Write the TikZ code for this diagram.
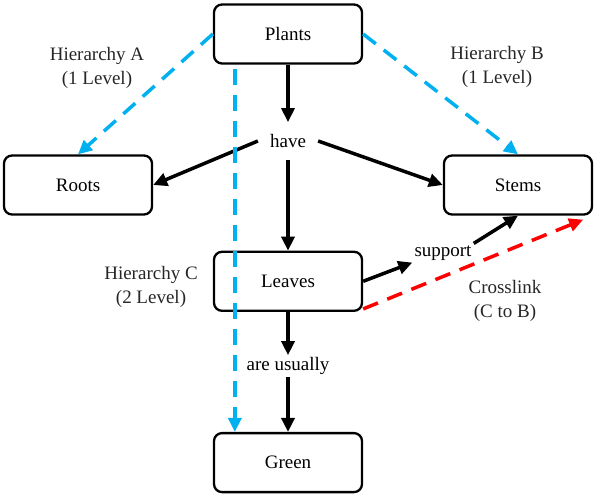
\documentclass[tikz,border=0pt]{standalone}
\usepackage{fontspec}
\setmainfont{Liberation Serif}
\usetikzlibrary{positioning,arrows.meta,calc}
\definecolor{hierblue}{RGB}{0,176,240}
\definecolor{crossred}{RGB}{255,0,0}
\tikzset{
  concept/.style={draw,line width=2.3pt,rounded corners=8pt,minimum width=148pt,
            minimum height=59pt,align=center,fill=white},
  linkword/.style={inner sep=2pt},
  rel/.style={-{Triangle[length=14pt,width=13pt]},line width=3.5pt,black},
  hier/.style={-{Triangle[length=14pt,width=13pt]},line width=3.5pt,hierblue,
            dash pattern=on 16pt off 10pt},
  cross/.style={hier,crossred},
  note/.style={align=center,text=black!85},
}

\begin{document}
\begin{tikzpicture}[x=1pt,y=-1pt,node distance=186pt,
    every node/.style={font=\fontsize{19}{24}\selectfont}]
  \useasboundingbox (0,0) rectangle (597,497);
  % concepts
  \node[concept] (plants) at (288,34) {Plants};
  \node[concept,below=of plants] (leaves) {Leaves};
  \node[concept,below=120pt of leaves] (green) {Green};
  \node[concept] (roots) at (78,185) {Roots};
  \node[concept] (stems) at (518,185) {Stems};
  % linking words
  \node[linkword,inner sep=12pt] (have) at (288,141) {have};
  \node[linkword] (usually) at (288,366) {are usually};
  \node[linkword] (support) at (443,253) {support};
  % hierarchy notes
  \node[note] (hierA) at (97,68) {Hierarchy A\\(1 Level)};
  \node[note] (hierB) at (497,67) {Hierarchy B\\(1 Level)};
  \node[note] (hierC) at (151,287) {Hierarchy C\\(2 Level)};
  \node[note] (crossnote) at (505,301) {Crosslink\\(C to B)};
  % propositions
  \draw[rel] (plants) -- (have);
  \draw[rel] (have.west) -- (roots.east);
  \draw[rel] (have.east) -- (stems.west);
  \draw[rel] (have) -- (leaves);
  \draw[rel] (leaves) -- (usually);
  \draw[rel] (usually) -- (green);
  \draw[rel] (leaves.east) -- (support.south west);
  \draw[rel] (support.north east) -- (stems.south);
  % hierarchies and crosslink
  \draw[hier] (plants.west) -- (roots.north);
  \draw[hier] (plants.east) -- (stems.north);
  \draw[hier] ($(plants.south west)+(22,4)$) -- ($(green.north west)+(22,0)$);
  \draw[cross] ($(leaves.south east)+(0,-3)$) -- ($(stems.south east)+(-10,4)$);
\end{tikzpicture}
\end{document}
